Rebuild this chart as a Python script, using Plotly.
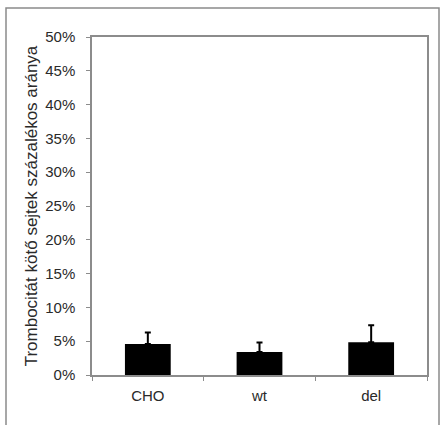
import plotly.graph_objects as go

categories = ["CHO", "wt", "del"]
values = [4.6, 3.4, 4.85]
errors = [1.7, 1.4, 2.5]
y_ticks = list(range(0, 55, 5))
y_title = "Trombocitát kötő sejtek százalékos aránya"

W, H = 441, 425
L, R, T, B = 92, 14, 37, 50

fig = go.Figure()
fig.add_trace(go.Bar(
    x=categories, y=values,
    marker=dict(color="black", line=dict(width=0)),
    error_y=dict(type="data", symmetric=False, array=errors,
                 arrayminus=[0] * len(errors), color="black",
                 thickness=2, width=3),
))

axis_col = "#8c8c8c"
fig.update_layout(
    width=W, height=H,
    margin=dict(l=L, r=R, t=T, b=B, autoexpand=False),
    paper_bgcolor="white", plot_bgcolor="white",
    bargap=0.59,
    showlegend=False,
    font=dict(family="Liberation Sans, Arial, sans-serif", size=15, color="#2a2a2a"),
    xaxis=dict(showline=True, linecolor=axis_col, linewidth=1.5, mirror=True,
               ticks="outside", tickson="boundaries", ticklen=4, tickcolor=axis_col,
               showgrid=False, tickfont=dict(size=15), ticklabelstandoff=6,
               automargin=False),
    yaxis=dict(range=[0, 50], tickvals=y_ticks, ticktext=[f"{v}%" for v in y_ticks],
               showline=True, linecolor=axis_col, linewidth=1.5, mirror=True,
               ticks="outside", ticklen=4, tickcolor=axis_col, showgrid=False,
               zeroline=False, tickfont=dict(size=15), ticklabelstandoff=8,
               automargin=False,
               title=dict(text=y_title, font=dict(size=17), standoff=3)),
)

# outer frame
pw, ph = W - L - R, H - T - B
def px_x(p):
    return (p - L) / pw
def px_y(p):
    return (H - B - p) / ph
fig.add_shape(type="rect", xref="paper", yref="paper",
              x0=px_x(6), x1=px_x(439), y0=px_y(432), y1=px_y(8),
              line=dict(color="#8a8a8a", width=1.5), fillcolor="rgba(0,0,0,0)",
              layer="below")

fig.write_html("out.html", config={"displayModeBar": False},
               post_script="document.body.style.margin='0';")
